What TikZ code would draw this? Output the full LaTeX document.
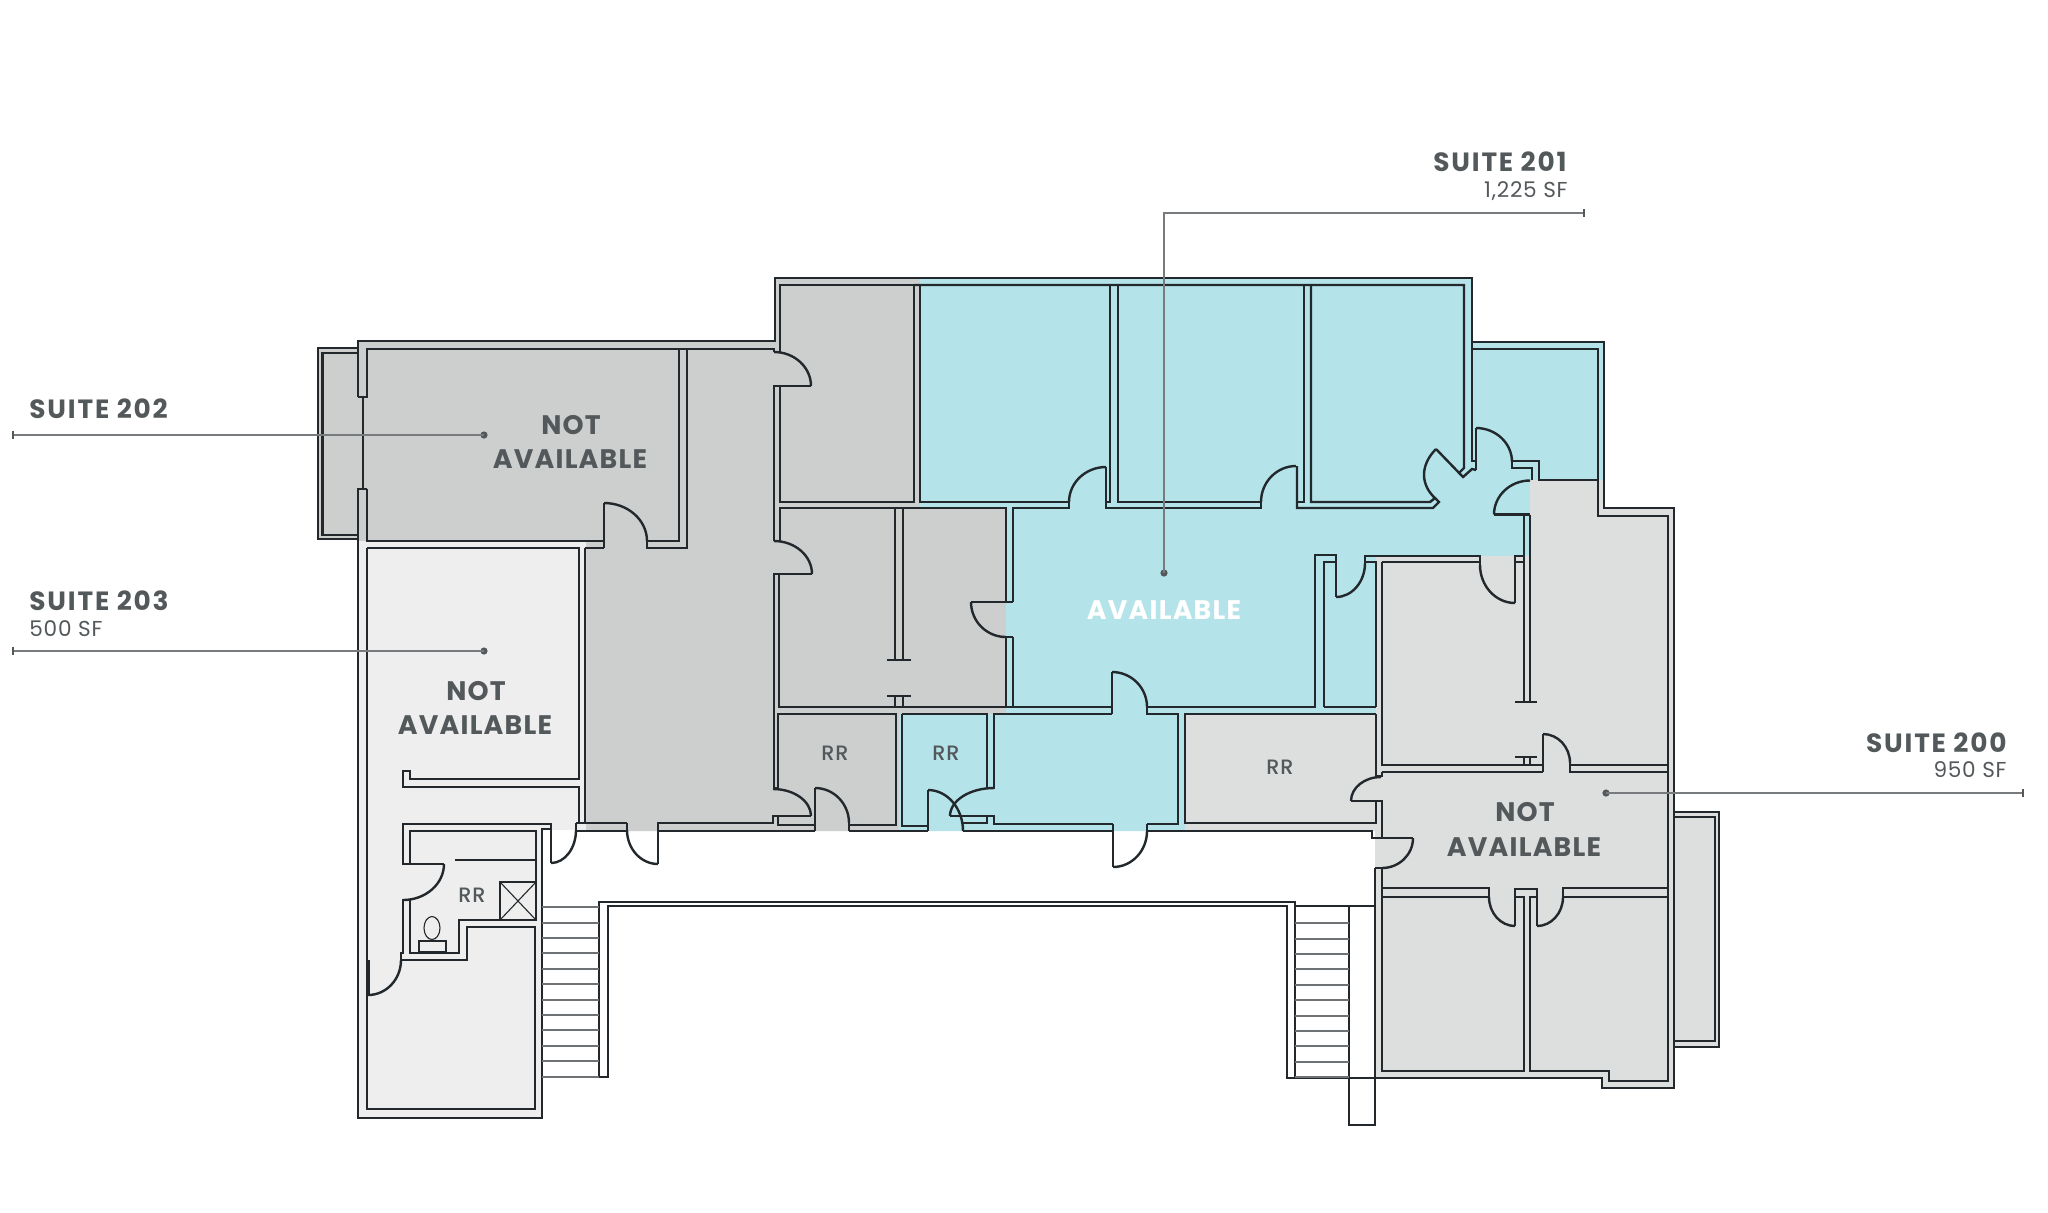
\documentclass[tikz,border=0pt]{standalone}
\usepackage{fontspec}
\usetikzlibrary{calc}
\setmainfont{Poppins}
\newfontfamily\suitefont{Poppins Bold}[LetterSpace=7]
\newfontfamily\statusfont{Poppins Bold}[LetterSpace=4.5]
\newfontfamily\areafont{Poppins}[LetterSpace=3.5]
\newfontfamily\rrfont{Poppins Medium}[LetterSpace=4]
\definecolor{wallc}{HTML}{22282B}
\definecolor{textc}{HTML}{53585B}
\definecolor{leadc}{HTML}{777B7D}
\definecolor{stairc}{HTML}{6E7274}
\definecolor{greyA}{HTML}{CDCFCF}
\definecolor{greyB}{HTML}{DDDEDE}
\definecolor{greyC}{HTML}{EEEEEE}
\definecolor{blueA}{HTML}{B4E3E9}
\tikzset{
  wall/.style={draw=wallc,line width=1.2pt,line join=miter,line cap=butt},
  thinw/.style={draw=wallc,line width=0.55pt},
  tread/.style={draw=stairc,line width=0.6pt},
  leader/.style={draw=leadc,line width=0.75pt},
  tick/.style={draw=textc,line width=0.75pt},
  dotm/.style={circle,fill=textc,inner sep=0pt,minimum size=3.6pt},
  suite/.style={font=\suitefont\fontsize{13.2}{15}\selectfont,text=textc,inner sep=0pt},
  area/.style={font=\areafont\fontsize{10.8}{12}\selectfont,text=textc,inner sep=0pt},
  status/.style={font=\statusfont\fontsize{13.4}{15}\selectfont,text=textc,inner sep=0pt,anchor=base},
  rr/.style={font=\rrfont\fontsize{10.4}{12}\selectfont,text=textc,inner sep=0pt,anchor=base},
}
\newcommand{\swing}[4]{\draw[wall] (#1,#2) .. controls ($(#1,#2)!.5523!(#3,#2)$) and ($(#3,#4)!.5523!(#3,#2)$) .. (#3,#4);}
\begin{document}
\begin{tikzpicture}[x=0.5pt,y=-0.5pt]
\useasboundingbox (0,0) rectangle (2048,1212);
% fills
\fill[greyA] (318,348)--(358,348)--(358,341)--(775,341)--(775,278)--(920,278)--(920,508)--(1006,508)--(1006,714)--(899,714)--(899,831)--(586,831)--(586,541)--(358,541)--(358,539)--(318,539)--cycle;
\fill[greyC] (358,541)--(586,541)--(586,830)--(542,830)--(542,1118)--(358,1118)--cycle;
\fill[blueA] (920,278)--(1472,278)--(1472,342)--(1604,342)--(1604,480)--(1530,480)--(1530,556)--(1376,556)--(1376,714)--(1185,714)--(1185,831)--(899,831)--(899,714)--(1006,714)--(1006,508)--(920,508)--cycle;
\fill[greyB] (1530,480)--(1604,480)--(1604,508)--(1674,508)--(1674,1088)--(1602,1088)--(1602,1078)--(1375,1078)--(1375,831)--(1185,831)--(1185,714)--(1376,714)--(1376,556)--(1530,556)--cycle;
\fill[greyB] (1674,812)--(1719,812)--(1719,1047)--(1674,1047)--cycle;
% suite 202 shell
\draw[wall] (358,348)--(318,348)--(318,539)--(358,539);
\draw[wall] (358,353)--(322.5,353)--(322.5,535)--(358,535);
\draw[wall] (358,397)--(358,341)--(775,341)--(775,278)--(1472,278)--(1472,461)--(1476,461);
\draw[wall] (358,397)--(367,397)--(367,349)--(774,349)--(774,352);
\draw[thinw,line width=0.9pt] (363,397)--(363,489);
\draw[wall] (367,489)--(358,489)--(358,1118)--(542,1118)--(542,829)--(551,829);
\draw[wall] (367,489)--(367,541)--(604,541);
\draw[wall] (367,548)--(367,1109)--(535,1109)--(535,927)--(467,927)--(467,960)--(401,960)--(401,953)--(403,953)--(403,900)--(410,900);
\draw[wall] (367,548)--(579,548)--(579,779)--(410,779)--(410,771)--(403,771)--(403,787)--(579,787)--(579,823)--(585,823);
\draw[wall] (585,548)--(585,823);
\draw[wall] (585,548)--(604,548);
\draw[wall] (604,503)--(604,548);
\swing{604}{503}{647}{541}
\draw[wall] (647,541)--(647,548)--(687,548)--(687,349);
\draw[wall] (647,541)--(679,541)--(679,349);
% corridor door top
\swing{774}{352}{811}{386}
\draw[wall] (811,386)--(774,386)--(774,541);
\draw[wall] (780,352)--(774,352);
\draw[wall] (780,352)--(780,285)--(914,285)--(914,502)--(780,502)--(780,387);
\draw[wall] (914,285)--(1464,285)--(1464,468)--(1459,473);
\draw[wall] (920,285)--(920,502)--(1069,502);
\draw[wall] (1110,285)--(1110,502)--(1106,502);
\draw[wall] (1118,285)--(1118,502)--(1261,502);
\draw[wall] (1304,285)--(1304,502)--(1297,502);
\draw[wall] (1311,285)--(1311,502)--(1430,502)--(1435,498);
% doors along upper corridor
\swing{1106}{467}{1069}{502}
\draw[wall] (1069,502)--(1069,508)--(1013,508)--(1013,602);
\draw[wall] (1106,467)--(1106,508)--(1261,508)--(1261,502);
\swing{1296}{466}{1261}{502}
\draw[wall] (1297,466)--(1297,508)--(1433,508)--(1439,502)--(1435,498);
\draw[wall] (1436,449)--(1463,477)--(1472,469)--(1476,470);
\draw[wall] (1436,449) .. controls (1420,465) and (1420,485) .. (1436,499);
\draw[wall] (1476,428)--(1476,470);
\swing{1476}{428}{1512}{462}
\draw[wall] (1512,462)--(1512,468)--(1532,468)--(1532,480);
\draw[wall] (1512,461)--(1539,461)--(1539,480)--(1598,480);
\draw[wall] (1472,342)--(1604,342)--(1604,508)--(1674,508)--(1674,1088)--(1602,1088)--(1602,1078)--(1287,1078)--(1287,906)--(608,906)--(608,1077)--(599,1077)--(599,902)--(1295,902)--(1295,1078);
\draw[wall] (1295,906)--(1375,906);
\draw[wall] (1472,349)--(1598,349)--(1598,516)--(1668,516)--(1668,1081)--(1609,1081)--(1609,1071)--(1530,1071)--(1530,897)--(1537,897);
\swing{1530}{480.5}{1494}{514.5}
\draw[wall] (1494,514.5)--(1530,514.5);
% gray office lower
\swing{774}{541}{812}{574}
\draw[wall] (780,541)--(774,541);
\draw[wall] (812,574)--(774,574)--(774,788)--(779,788);
\draw[wall] (780,541)--(780,508)--(1006,508)--(1006,602);
\draw[wall] (971,602)--(1013,602);
\swing{1006}{637}{971}{602}
\draw[wall] (1013,637)--(1006,637)--(1006,707)--(779,707)--(779,574);
\draw[wall] (1013,637)--(1013,707);
\draw[wall] (895,508)--(895,660);
\draw[wall] (903,508)--(903,660);
\draw[wall] (887,660)--(911,660);
\draw[wall] (887,696)--(911,696);
\draw[wall] (895,696)--(895,707);
\draw[wall] (903,696)--(903,707);
\draw[wall] (1006,707)--(1112,707);
\draw[wall] (1112,672)--(1112,714);
\swing{1112}{672}{1147}{707}
\draw[wall] (1147,707)--(1315,707)--(1315,555)--(1336,555)--(1336,597);
\swing{1336}{597}{1365}{563}
\draw[wall] (1365,563)--(1365,556)--(1480,556)--(1480,565);
\swing{1515}{603}{1480}{565}
\draw[wall] (1515,603)--(1515,556)--(1524,556);
\draw[wall] (1324,707)--(1324,562)--(1336,562);
\draw[wall] (1324,707)--(1376,707);
\draw[wall] (1365,562)--(1376,562)--(1376,707);
\draw[wall] (1382,562)--(1480,562);
\draw[wall] (1515,562)--(1524,562);
\draw[wall] (1382,562)--(1382,765)--(1543,765);
\draw[wall] (1524,515)--(1524,702);
\draw[wall] (1530,515)--(1530,702);
\draw[wall] (1515,702)--(1537,702);
\draw[wall] (1515,757)--(1537,757);
\draw[wall] (1524,757)--(1524,765);
\draw[wall] (1530,757)--(1530,765);
\draw[wall] (1382,772)--(1543,772);
\draw[wall] (1543,734)--(1543,772);
\swing{1543}{734}{1570}{763}
\draw[wall] (1570,763)--(1570,772)--(1668,772);
\draw[wall] (1570,765)--(1668,765);
% RR row
\draw[wall] (778,788)--(778,714)--(896,714)--(896,825)--(849,825);
\draw[wall] (902,714)--(987,714)--(987,788)--(994,788)--(994,714)--(1112,714);
\swing{994}{788}{950}{816}
\draw[wall] (950,816)--(994,816)--(994,824)--(1113,824);
\draw[wall] (987,816)--(987,823)--(963,823);
\draw[wall] (902,714)--(902,826)--(928,826);
\draw[wall] (928,790)--(928,831);
\swing{928}{790}{963}{831}
\draw[wall] (963,831)--(1113,831);
\draw[wall] (1113,824)--(1113,867);
\swing{1113}{867}{1147}{831}
\draw[wall] (1147,824)--(1147,831)--(1372,831)--(1372,838)--(1413,838);
\draw[wall] (1147,824)--(1178,824)--(1178,714)--(1147,714)--(1147,707);
\draw[wall] (1376,714)--(1185,714)--(1185,823)--(1376,823)--(1376,802);
\draw[wall] (1376,714)--(1376,776)--(1382,776)--(1382,772);
\swing{1381}{777}{1351}{801}
\draw[wall] (1351,801)--(1382,801)--(1382,838);
\swing{1382}{868}{1413}{838}
\draw[wall] (1375,868)--(1382,868);
\draw[wall] (1375,868)--(1375,1125)--(1349,1125)--(1349,906);
\draw[wall] (1382,868)--(1382,1071)--(1524,1071)--(1524,897)--(1515,897);
\draw[wall] (1382,888)--(1489,888)--(1489,897)--(1382,897);
\swing{1515}{926}{1489}{897}
\draw[wall] (1515,926)--(1515,889)--(1537,889)--(1537,926);
\swing{1537}{926}{1563}{897}
\draw[wall] (1563,897)--(1563,888)--(1668,888);
\draw[wall] (1563,897)--(1668,897);
% right annex
\draw[wall] (1674,812)--(1719,812)--(1719,1047)--(1674,1047);
\draw[wall] (1674,817)--(1715,817)--(1715,1041)--(1674,1041);
% lobby strip
\draw[wall] (658,864)--(658,823)--(773,823)--(773,816)--(811,816);
\swing{773}{789}{811}{816}
\draw[wall] (658,831)--(815,831);
\draw[wall] (778,817)--(778,825)--(815,825);
\draw[wall] (815,788)--(815,831);
\swing{815}{788}{849}{823}
\draw[wall] (849,823)--(849,831);
\draw[wall] (849,831)--(928,831);
\swing{658}{864}{627}{830}
\draw[wall] (627,823)--(627,830);
\draw[wall] (576,823)--(627,823);
\draw[wall] (576,831)--(627,831);
\swing{551}{863}{576}{830}
\draw[wall] (576,823)--(576,830);
% washroom
\draw[wall] (551,863)--(551,824)--(403,824)--(403,864)--(444,864);
\swing{403}{900}{444}{864}
\draw[wall] (410,864)--(410,831)--(536,831)--(536,920)--(459,920)--(459,953)--(410,953)--(410,900);
\swing{368}{995}{401}{960}
\draw[wall,line width=2pt] (368,960)--(368,995);
\draw[thinw] (455,860)--(536,860);
\draw[thinw] (500,882) rectangle (536,920);
\draw[thinw] (500,882)--(536,920);
\draw[thinw] (500,920)--(536,882);
\draw[thinw] (432,928) ellipse [x radius=8,y radius=11.5];
\draw[thinw] (419,941) rectangle (446,952);
% stairs
\foreach \yy in {907,923,938,953,969,984,1000,1015,1030,1046,1061,1077}{\draw[tread] (542,\yy)--(599,\yy);}
\foreach \yy in {923,939,954,969,985,1000,1016,1031,1046,1062,1077}{\draw[tread] (1295,\yy)--(1349,\yy);}
% leaders
\coordinate (c201a) at (1584,213);
\coordinate (c201b) at (1164,213);
\coordinate (c202a) at (13,435);
\coordinate (c203a) at (13,651);
\coordinate (c200a) at (2023,793);
\node[dotm] (d201) at (1164,573) {};
\node[dotm] (d202) at (484,435) {};
\node[dotm] (d203) at (484,651) {};
\node[dotm] (d200) at (1606,793) {};
\draw[leader] (c201a)--(c201b)--(d201.center);
\draw[leader] (c202a)--(d202.center);
\draw[leader] (c203a)--(d203.center);
\draw[leader] (c200a)--(d200.center);
\draw[tick] ($(c201a)+(0,-4)$)--($(c201a)+(0,4)$);
\draw[tick] ($(c202a)+(0,-4)$)--($(c202a)+(0,4)$);
\draw[tick] ($(c203a)+(0,-4)$)--($(c203a)+(0,4)$);
\draw[tick] ($(c200a)+(0,-4)$)--($(c200a)+(0,4)$);
% labels
\node[suite,anchor=base east] (t201) at (1567,171) {SUITE 201};
\node[area,anchor=base east] (a201) at (1568,197) {1,225 SF};
\node[suite,anchor=base west] (t202) at (29,418) {SUITE 202};
\node[suite,anchor=base west] (t203) at (29,610) {SUITE 203};
\node[area,anchor=base west] (a203) at (29,636) {500 SF};
\node[suite,anchor=base east] (t200) at (2007,752) {SUITE 200};
\node[area,anchor=base east] (a200) at (2007,777) {950 SF};
\node[status] (n202a) at (571,434) {NOT};
\node[status] (n202b) at (570,468) {AVAILABLE};
\node[status] (n203a) at (476,700) {NOT};
\node[status] (n203b) at (475,734) {AVAILABLE};
\node[status] (n200a) at (1525,821) {NOT};
\node[status] (n200b) at (1524,856) {AVAILABLE};
\node[status,text=white] (av) at (1164,619) {AVAILABLE};
\node[rr] (rr1) at (835,760) {RR};
\node[rr] (rr2) at (946,760) {RR};
\node[rr] (rr3) at (1280,774) {RR};
\node[rr] (rr4) at (472,902) {RR};
\end{tikzpicture}
\end{document}
